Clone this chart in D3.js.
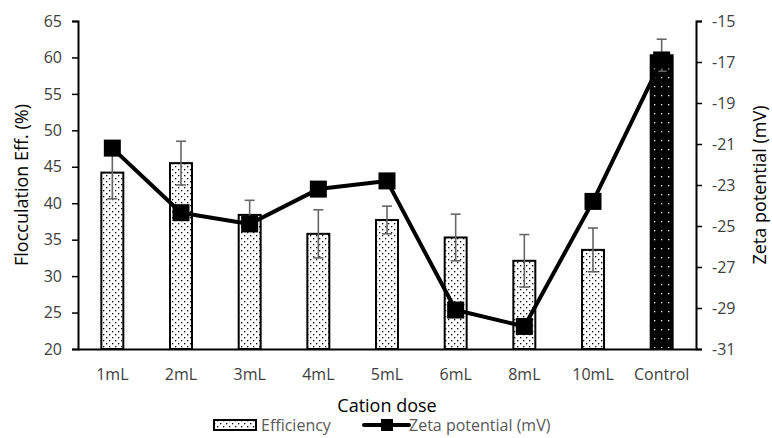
<!doctype html>
<html>
<head>
<meta charset="utf-8">
<title>Flocculation efficiency and zeta potential</title>
<style>
    body { margin: 0; background: #fff; }
    svg text { font-family: "Open Sans", "Noto Sans", sans-serif; }
    .tick line { stroke: #000; stroke-width: 1.5; }
    .tick text { fill: #404040; font-size: 16px; }
    .domain { stroke: #000; stroke-width: 2; }
</style>
</head>
<body>
<div id="chart"></div>
<script src="https://cdnjs.cloudflare.com/ajax/libs/d3/7.8.5/d3.min.js"></script>
<script>
// Data
var categories = ["1mL", "2mL", "3mL", "4mL", "5mL", "6mL", "8mL", "10mL", "Control"];
var efficiency = [44.2, 45.5, 38.4, 35.8, 37.7, 35.3, 32.1, 33.6, 60.3];
var efficiencyErr = [3.6, 3.0, 2.0, 3.3, 1.9, 3.2, 3.6, 3.0, 2.2];
var zeta = [-21.2, -24.35, -24.9, -23.2, -22.8, -29.1, -29.9, -23.8, -16.9];
var leftTicks = [20, 25, 30, 35, 40, 45, 50, 55, 60, 65];
var rightTicks = [-31, -29, -27, -25, -23, -21, -19, -17, -15];

var W = 772, H = 438;
var margin = { top: 21, right: 76, bottom: 89, left: 78 };
var width = W - margin.left - margin.right,
    height = H - margin.top - margin.bottom;

var svg = d3.select("#chart").append("svg")
    .attr("width", W)
    .attr("height", H);

// Dot patterns for the bars
var defs = svg.append("defs");
var pw = defs.append("pattern")
    .attr("id", "dotsWhite")
    .attr("patternUnits", "userSpaceOnUse")
    .attr("width", 6).attr("height", 6);
pw.append("rect").attr("width", 6).attr("height", 6).attr("fill", "#fff");
pw.append("rect").attr("x", 1).attr("y", 1).attr("width", 1.3).attr("height", 1.3).attr("fill", "#000");
pw.append("rect").attr("x", 4).attr("y", 4).attr("width", 1.3).attr("height", 1.3).attr("fill", "#000");

var pb = defs.append("pattern")
    .attr("id", "dotsBlack")
    .attr("patternUnits", "userSpaceOnUse")
    .attr("width", 7).attr("height", 9);
pb.append("rect").attr("width", 7).attr("height", 9).attr("fill", "#000");
pb.append("rect").attr("x", 2).attr("y", 2).attr("width", 1.3).attr("height", 1.3).attr("fill", "#fff");

var g = svg.append("g")
    .attr("transform", "translate(" + margin.left + "," + margin.top + ")");

// Scales
var x = d3.scaleBand().domain(categories).range([0, width]).paddingInner(0.68).paddingOuter(0.34);
var y = d3.scaleLinear().domain([20, 65]).range([height, 0]);
var y2 = d3.scaleLinear().domain([-31, -15]).range([height, 0]);

// Bars
g.selectAll(".bar")
    .data(categories)
    .enter().append("rect")
    .attr("class", "bar")
    .attr("x", function(d) { return x(d); })
    .attr("width", x.bandwidth())
    .attr("y", function(d, i) { return y(efficiency[i]); })
    .attr("height", function(d, i) { return height - y(efficiency[i]); })
    .attr("fill", function(d) { return d === "Control" ? "url(#dotsBlack)" : "url(#dotsWhite)"; })
    .attr("stroke", "#000")
    .attr("stroke-width", 2);

// Error bars
var err = g.selectAll(".err")
    .data(categories)
    .enter().append("g")
    .attr("class", "err")
    .attr("stroke", "#666")
    .attr("stroke-width", 1.6);

function cx(d) { return x(d) + x.bandwidth() / 2; }

err.append("line")
    .attr("x1", cx).attr("x2", cx)
    .attr("y1", function(d, i) { return y(efficiency[i] - efficiencyErr[i]); })
    .attr("y2", function(d, i) { return y(efficiency[i] + efficiencyErr[i]); });
err.append("line")
    .attr("x1", function(d) { return cx(d) - 5; })
    .attr("x2", function(d) { return cx(d) + 5; })
    .attr("y1", function(d, i) { return y(efficiency[i] + efficiencyErr[i]); })
    .attr("y2", function(d, i) { return y(efficiency[i] + efficiencyErr[i]); });
err.append("line")
    .attr("x1", function(d) { return cx(d) - 5; })
    .attr("x2", function(d) { return cx(d) + 5; })
    .attr("y1", function(d, i) { return y(efficiency[i] - efficiencyErr[i]); })
    .attr("y2", function(d, i) { return y(efficiency[i] - efficiencyErr[i]); });

// Zeta line
var line = d3.line()
    .x(function(d, i) { return cx(categories[i]); })
    .y(function(d) { return y2(d); });

g.append("path")
    .datum(zeta)
    .attr("fill", "none")
    .attr("stroke", "#000")
    .attr("stroke-width", 4)
    .attr("stroke-linejoin", "round")
    .attr("d", line);

var ms = 17;
g.selectAll(".marker")
    .data(zeta)
    .enter().append("rect")
    .attr("class", "marker")
    .attr("x", function(d, i) { return cx(categories[i]) - ms / 2; })
    .attr("y", function(d) { return y2(d) - ms / 2; })
    .attr("width", ms).attr("height", ms)
    .attr("fill", "#000");

// Axes
g.append("g")
    .attr("class", "axis")
    .call(d3.axisLeft(y).tickValues(leftTicks).tickSize(6).tickPadding(10));

g.append("g")
    .attr("class", "axis")
    .attr("transform", "translate(" + width + ",0)")
    .call(d3.axisRight(y2).tickValues(rightTicks).tickSize(6).tickPadding(10)
        .tickFormat(function(d) { return String(d); }));

g.append("g")
    .attr("class", "axis")
    .attr("transform", "translate(0," + height + ")")
    .call(d3.axisBottom(x).tickSize(0).tickPadding(20));

// Axis titles
svg.append("text")
    .attr("transform", "translate(28," + (margin.top + height / 2) + ") rotate(-90)")
    .attr("text-anchor", "middle")
    .style("font-size", "18px")
    .attr("fill", "#000")
    .text("Flocculation Eff. (%)");

svg.append("text")
    .attr("transform", "translate(766," + (margin.top + height / 2) + ") rotate(-90)")
    .attr("text-anchor", "middle")
    .style("font-size", "18px")
    .attr("fill", "#000")
    .text("Zeta potential (mV)");

svg.append("text")
    .attr("x", margin.left + width / 2)
    .attr("y", 412)
    .attr("text-anchor", "middle")
    .style("font-size", "18px")
    .attr("fill", "#000")
    .text("Cation dose");

// Legend
var lg = svg.append("g").attr("transform", "translate(0,425)");
lg.append("rect")
    .attr("x", 214).attr("y", -5).attr("width", 42).attr("height", 10)
    .attr("fill", "url(#dotsWhite)").attr("stroke", "#000").attr("stroke-width", 2);
lg.append("text")
    .attr("x", 261).attr("y", 6)
    .style("font-size", "16px").attr("fill", "#595959")
    .text("Efficiency");
lg.append("line")
    .attr("x1", 364).attr("x2", 409).attr("y1", 0).attr("y2", 0)
    .attr("stroke", "#000").attr("stroke-width", 4).attr("stroke-linecap", "round");
lg.append("rect")
    .attr("x", 381).attr("y", -6).attr("width", 12).attr("height", 12).attr("fill", "#000");
lg.append("text")
    .attr("x", 409).attr("y", 6)
    .style("font-size", "16px").attr("fill", "#595959")
    .text("Zeta potential (mV)");
</script>
</body>
</html>
